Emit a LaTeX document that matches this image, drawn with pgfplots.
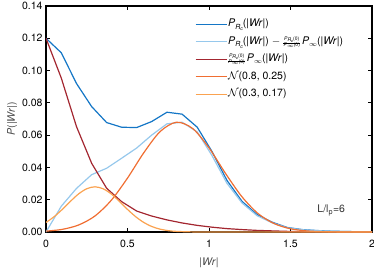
\documentclass[border=0pt]{standalone}
\usepackage{pgfplots}
\pgfplotsset{compat=1.18}
\usepackage{fontspec}
\setmainfont{TeX Gyre Heros}
\definecolor{cblue}{RGB}{20,118,198}
\definecolor{clblue}{RGB}{150,200,236}
\definecolor{cred}{RGB}{163,38,48}
\definecolor{corange}{RGB}{240,110,50}
\definecolor{clorange}{RGB}{250,162,80}
\newcommand{\PRc}{\textit{P}\raisebox{-2.5pt}{\scriptsize\textit{R}\raisebox{-1.5pt}{\tiny\textit{c}}}}
\newcommand{\fr}{\raisebox{-0.5pt}{$\vcenter{\hbox{\tiny\begin{tabular}{@{}c@{}}\textit{P}\raisebox{-1pt}{\textit{R}\raisebox{-1pt}{\fontsize{4}{4}\selectfont\textit{c}}}(0)\\[-3pt]\rule{17pt}{0.4pt}\\[-3.5pt]\textit{P}\raisebox{-1pt}{$\infty$}(0)\end{tabular}}}$}}
\newcommand{\Pinf}{\textit{P}\raisebox{-2pt}{\scriptsize$\infty$}}
\begin{document}
\begin{tikzpicture}
\begin{axis}[
  name=ax,
  scale only axis, width=326pt, height=226pt,
  xmin=0, xmax=2, ymin=0, ymax=0.14,
  xtick={0,0.5,1,1.5,2},
  xticklabels={0,0.5,1,1.5,2},
  ytick={0,0.02,0.04,0.06,0.08,0.10,0.12,0.14},
  yticklabel style={/pgf/number format/.cd, fixed, fixed zerofill, precision=2, assume math mode=true},
  ticklabel style={font=\fontsize{10.5}{12}\selectfont},
  xticklabel style={yshift=-5pt},
  tick align=inside, tick pos=both,
  major tick length=4pt,
  every tick/.style={black, line width=1pt},
  axis line style={line width=1.3pt},
  xlabel={|\textit{Wr}|}, ylabel={\textit{P}(|\textit{Wr}|)},
  xlabel style={font=\fontsize{10.5}{12}\selectfont, yshift=-3pt, text=black!70},
  ylabel style={font=\fontsize{10.5}{12}\selectfont, yshift=-2pt, text=black!70},
  legend style={draw=none, fill=none, at={(0.447,0.955)}, anchor=north west, font=\fontsize{10.5}{12}\selectfont, row sep=5.5pt,
    nodes={inner sep=1pt, text height=7.5pt, text depth=2.5pt}},
  legend cell align=left,
  legend image code/.code={\draw[#1, line width=1.2pt] (0pt,0pt) -- (31pt,0pt);},
  every axis plot/.append style={line width=1.2pt},
]
\addplot[cblue] coordinates {
(0,0.120) (0.094,0.111) (0.187,0.092) (0.280,0.0777) (0.372,0.0678) (0.464,0.0649)
(0.556,0.0647) (0.648,0.0684) (0.742,0.0742) (0.835,0.0730) (0.928,0.0649)
(1.0175,0.050) (1.11,0.032) (1.2025,0.019) (1.295,0.0108) (1.3875,0.0061)
(1.48,0.0028) (1.5725,0.0015) (1.665,0.0009) (1.7575,0.0005) (1.85,0.0003) (1.9425,0.0001) (2,0.0001)};
\addlegendentry{\PRc(|\textit{Wr}|)}
\addplot[clblue] coordinates {
(0,0) (0.094,0.016) (0.187,0.027) (0.280,0.0355) (0.372,0.0395) (0.464,0.0457)
(0.556,0.052) (0.648,0.060) (0.742,0.067) (0.835,0.068) (0.928,0.062)
(1.0175,0.0475) (1.11,0.0302) (1.2025,0.018) (1.295,0.0101) (1.3875,0.0057)
(1.48,0.0026) (1.5725,0.0014) (1.665,0.0008) (1.7575,0.0005) (1.85,0.0003) (1.9425,0.0001) (2,0.0001)};
\addlegendentry{\PRc(|\textit{Wr}|) $-$ \fr\,\Pinf(|\textit{Wr}|)}
\addplot[cred] coordinates {
(0,0.120) (0.094,0.0953) (0.187,0.0653) (0.280,0.0426) (0.372,0.0271) (0.464,0.0188)
(0.556,0.013) (0.648,0.0099) (0.742,0.0075) (0.835,0.0056) (0.928,0.0041)
(1.0175,0.003) (1.11,0.0021) (1.2025,0.0015) (1.295,0.001) (1.3875,0.0007)
(1.48,0.0004) (1.5725,0.0002) (1.665,0.0001) (1.7575,0.00005) (1.85,0) (2,0)};
\addlegendentry{\fr\,\Pinf(|\textit{Wr}|)}
\addplot[corange, smooth] coordinates {
(0,0.00053) (0.1,0.00164) (0.2,0.00434) (0.3,0.0099) (0.4,0.0196) (0.5,0.0334)
(0.6,0.0491) (0.7,0.0622) (0.8,0.068) (0.9,0.0641) (1.0,0.0521) (1.1,0.0365)
(1.2,0.0221) (1.3,0.0115) (1.4,0.0052) (1.5,0.0020) (1.6,0.00067) (1.7,0.00019)
(1.8,0.00005) (1.9,0.00001) (2,0)};
\addlegendentry{$\mathcal{N}$(0.8, 0.25)}
\addplot[clorange, smooth] coordinates {
(0,0.0059) (0.05,0.0095) (0.1,0.014) (0.15,0.019) (0.2,0.0236) (0.25,0.0268)
(0.3,0.028) (0.35,0.0268) (0.4,0.0236) (0.45,0.019) (0.5,0.014) (0.55,0.0095)
(0.6,0.0059) (0.65,0.00337) (0.7,0.00176) (0.75,0.00084) (0.8,0.00037)
(0.9,0.00006) (1.0,0) (2,0)};
\addlegendentry{$\mathcal{N}$(0.3, 0.17)}
\node[anchor=center, text=black!80, font=\fontsize{10.5}{12}\selectfont] at (axis cs:1.75,0.0135) {L/l$_\mathrm{p}$=6};
\end{axis}
\pgfresetboundingbox
\path ([shift={(-46pt,-36pt)}]ax.south west) rectangle ([shift={(2pt,6pt)}]ax.north east);
\end{tikzpicture}
\end{document}
